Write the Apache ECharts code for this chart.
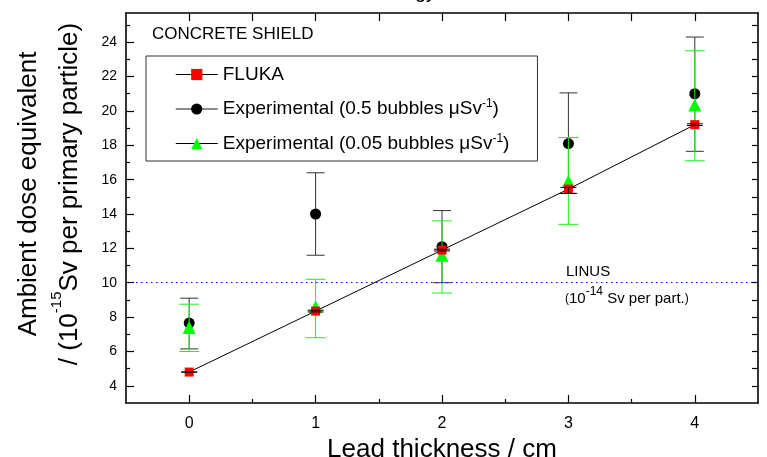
<!DOCTYPE html>
<html>
<head>
<meta charset="utf-8">
<script src="https://cdn.jsdelivr.net/npm/echarts@6/dist/echarts.min.js"></script>
<style>
html,body{margin:0;padding:0;background:#fff;}
#chart{width:767px;height:457px;}
</style>
</head>
<body>
<div id="chart"></div>
<script>
// ---- data ----
const thickness = [0, 1, 2, 3, 4];
const xTicks = [0, 1, 2, 3, 4];
const yTicks = [4, 6, 8, 10, 12, 14, 16, 18, 20, 22, 24];

const fluka      = [4.8, 8.35, 11.9, 15.45, 19.2];
const flukaLow   = [4.8, 8.3, 11.85, 15.2, 19.15];
const flukaHigh  = [4.8, 8.4, 11.95, 15.55, 19.25];

const exp05      = [7.65, 14.0, 12.1, 18.1, 21.0];
const exp05Low   = [6.15, 11.6, 10.0, 15.2, 17.65];
const exp05High  = [9.1, 16.4, 14.2, 21.05, 24.3];

const exp005     = [7.4, 8.6, 11.6, 15.9, 20.35];
const exp005Low  = [6.0, 6.8, 9.4, 13.4, 17.1];
const exp005High = [8.75, 10.2, 13.6, 18.45, 23.5];

const linusLevel = 10;

const FONT = "'Liberation Sans', Arial, Helvetica, sans-serif";

function pairs(ys) { return thickness.map((t, i) => [t, ys[i]]); }
function bars(lo, hi) { return thickness.map((t, i) => [t, lo[i], hi[i]]); }

function errRender(color, capHalf) {
  return function (params, api) {
    const x = api.value(0), lo = api.value(1), hi = api.value(2);
    const a = api.coord([x, lo]), b = api.coord([x, hi]);
    const st = { stroke: color, lineWidth: 1 };
    return {
      type: 'group',
      children: [
        { type: 'line', shape: { x1: a[0], y1: a[1], x2: b[0], y2: b[1] }, style: st },
        { type: 'line', shape: { x1: a[0] - capHalf, y1: a[1], x2: a[0] + capHalf, y2: a[1] }, style: st },
        { type: 'line', shape: { x1: b[0] - capHalf, y1: b[1], x2: b[0] + capHalf, y2: b[1] }, style: st }
      ]
    };
  };
}

const chart = echarts.init(document.getElementById('chart'), null, { renderer: 'canvas' });

const axisLineStyle = { color: '#000', width: 1.6 };
const minorXTicks = [0.5, 1.5, 2.5, 3.5];
const allHalfTicks = [0, 0.5, 1, 1.5, 2, 2.5, 3, 3.5, 4];
const minorYTicks = [5, 7, 9, 11, 13, 15, 17, 19, 21, 23, 25];
const rightYTicks = [4,5,6,7,8,9,10,11,12,13,14,15,16,17,18,19,20,21,22,23,24,25];

const option = {
  animation: false,
  backgroundColor: '#fff',
  textStyle: { fontFamily: FONT },
  grid: { left: 126, right: 9, top: 13, bottom: 54, containLabel: false, outerBoundsMode: 'none' },
  legend: {
    orient: 'vertical',
    left: 146, top: 56,
    padding: [9, 28, 8, 29],
    itemWidth: 42, itemHeight: 14, itemGap: 14,
    borderColor: '#333', borderWidth: 1,
    backgroundColor: '#fff',
    data: [
      { name: 'FLUKA', lineStyle: { color: '#000', width: 1, opacity: 1 } },
      { name: 'Experimental (0.5 bubbles)', lineStyle: { color: '#666', width: 1.5, opacity: 1 } },
      { name: 'Experimental (0.05 bubbles)', lineStyle: { color: '#000', width: 1, opacity: 1 } }
    ],
    formatter: function (n) {
      if (n === 'FLUKA') return '{t|FLUKA}';
      if (n === 'Experimental (0.5 bubbles)') return '{t|Experimental (0.5 bubbles }{g|\u03bc}{t|Sv}{s|-1}{t|)}';
      return '{t|Experimental (0.05 bubbles }{g|\u03bc}{t|Sv}{s|-1}{t|)}';
    },
    textStyle: {
      fontFamily: FONT, color: '#000', fontSize: 19,
      rich: {
        t: { fontFamily: FONT, fontSize: 19, color: '#000' },
        g: { fontFamily: FONT, fontSize: 19, color: '#000' },
        s: { fontFamily: FONT, fontSize: 12, color: '#000', verticalAlign: 'top', padding: [0, 0, 10, 0] }
      }
    }
  },
  xAxis: [
    {
      type: 'value', min: -0.5, max: 4.5, position: 'bottom',
      name: 'Lead thickness / cm', nameLocation: 'middle', nameGap: 26,
      nameTextStyle: { fontFamily: FONT, fontSize: 26, color: '#000', verticalAlign: 'top' },
      axisLine: { onZero: false, lineStyle: axisLineStyle },
      axisTick: { inside: true, length: 8, customValues: xTicks, lineStyle: { color: '#000', width: 1.2 } },
      axisLabel: { customValues: xTicks, color: '#000', fontSize: 16, fontFamily: FONT, margin: 13 },
      splitLine: { show: false }
    },
    {
      type: 'value', min: -0.5, max: 4.5, position: 'bottom',
      axisLine: { show: false, onZero: false },
      axisTick: { inside: true, length: 4, customValues: minorXTicks, lineStyle: { color: '#000', width: 1.2 } },
      axisLabel: { show: false },
      splitLine: { show: false }
    },
    {
      type: 'value', min: -0.5, max: 4.5, position: 'top',
      axisLine: { onZero: false, lineStyle: axisLineStyle },
      axisTick: { inside: true, length: 8, customValues: allHalfTicks, lineStyle: { color: '#000', width: 1.2 } },
      axisLabel: { show: false },
      splitLine: { show: false }
    }
  ],
  yAxis: [
    {
      type: 'value', min: 3, max: 25.7, position: 'left',
      name: 'Ambient dose equivalent\n/ (10{s|-15}Sv per primary particle)',
      nameLocation: 'middle', nameRotate: 90, nameGap: 33,
      nameTextStyle: {
        fontFamily: FONT, fontSize: 26, color: '#000', lineHeight: 41,
        padding: [0, 0, 0, 28],
        rich: {
          s: { fontFamily: FONT, fontSize: 15, color: '#000', verticalAlign: 'top', padding: [0, 0, 14, 0], lineHeight: 41 }
        }
      },
      axisLine: { onZero: false, lineStyle: axisLineStyle },
      axisTick: { inside: true, length: 8, customValues: yTicks, lineStyle: { color: '#000', width: 1.2 } },
      axisLabel: { customValues: yTicks, color: '#000', fontSize: 14, fontFamily: FONT, margin: 9 },
      splitLine: { show: false }
    },
    {
      type: 'value', min: 3, max: 25.7, position: 'left',
      axisLine: { show: false, onZero: false },
      axisTick: { inside: true, length: 4, customValues: minorYTicks, lineStyle: { color: '#000', width: 1.2 } },
      axisLabel: { show: false },
      splitLine: { show: false }
    },
    {
      type: 'value', min: 3, max: 25.7, position: 'right',
      axisLine: { onZero: false, lineStyle: axisLineStyle },
      axisTick: { inside: true, length: 6, customValues: rightYTicks, lineStyle: { color: '#000', width: 1.2 } },
      axisLabel: { show: false },
      splitLine: { show: false }
    }
  ],
  series: [
    {
      name: 'err05', type: 'custom', renderItem: errRender('#333', 9),
      data: bars(exp05Low, exp05High), encode: { x: 0, y: [1, 2] }, z: 2, silent: true
    },
    {
      name: 'Experimental (0.5 bubbles)', type: 'line', data: pairs(exp05),
      symbol: 'circle', symbolSize: 11, showSymbol: true,
      itemStyle: { color: '#000' }, lineStyle: { opacity: 0, width: 0 }, z: 3
    },
    {
      name: 'err005', type: 'custom', renderItem: errRender('#22ee22', 10),
      data: bars(exp005Low, exp005High), encode: { x: 0, y: [1, 2] }, z: 4, silent: true
    },
    {
      name: 'Experimental (0.05 bubbles)', type: 'line', data: pairs(exp005),
      symbol: 'triangle', symbolSize: 13, showSymbol: true,
      itemStyle: { color: '#00ff00' }, lineStyle: { opacity: 0, width: 0 }, z: 5
    },
    {
      name: 'FLUKA', type: 'line', data: pairs(fluka),
      symbol: 'rect', symbolSize: 9, showSymbol: true,
      itemStyle: { color: '#ff0000' }, lineStyle: { color: '#000', width: 1 }, z: 6,
      markLine: {
        silent: true, symbol: 'none', label: { show: false },
        lineStyle: { color: '#0000ff', type: [1.5, 3.5], width: 1.2 },
        data: [{ yAxis: linusLevel }]
      }
    },
    {
      name: 'errFluka', type: 'custom', renderItem: errRender('#000', 8),
      data: bars(flukaLow, flukaHigh), encode: { x: 0, y: [1, 2] }, z: 7, silent: true
    }
  ],
  graphic: [
    { type: 'text', left: 152, top: 26, style: { text: 'CONCRETE SHIELD', font: "17px " + FONT, fill: '#000' } },
    { type: 'text', x: 436, y: 2, style: { text: 'Energy', font: "20px " + FONT, fill: '#000', align: 'right', verticalAlign: 'bottom' } },
    { type: 'text', left: 566, top: 264, style: { text: 'LINUS', font: "15px " + FONT, fill: '#000' } },
    {
      type: 'text', left: 565, top: 286,
      style: {
        text: '{p|(}{n|10}{s|-14}{n| Sv per part.}{p|)}',
        fill: '#000',
        rich: {
          p: { fontFamily: FONT, fontSize: 12, verticalAlign: 'bottom', padding: [0, 0, 1, 0] },
          n: { fontFamily: FONT, fontSize: 15, verticalAlign: 'bottom' },
          s: { fontFamily: FONT, fontSize: 12, verticalAlign: 'top', padding: [0, 0, 8, 0] }
        }
      }
    }
  ]
};
chart.setOption(option);
</script>
</body>
</html>
